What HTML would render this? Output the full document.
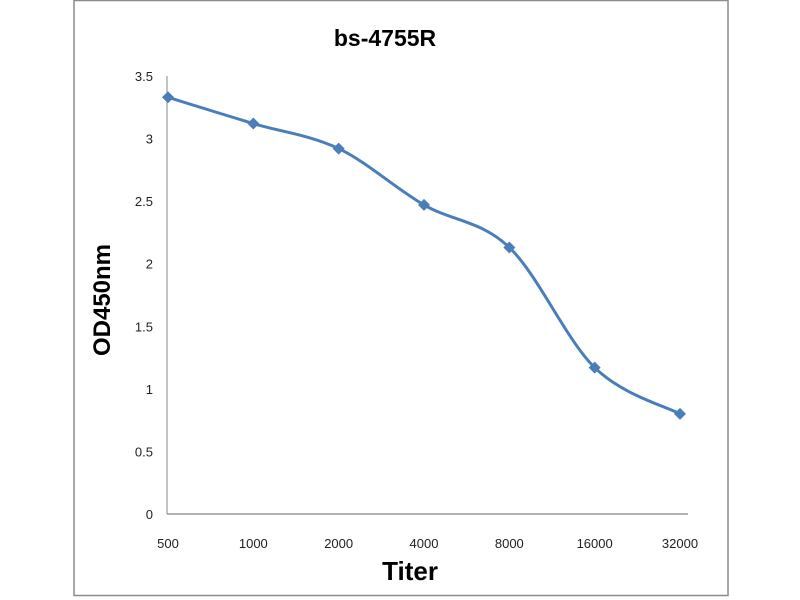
<!DOCTYPE html>
<html><head><meta charset="utf-8"><style>
html,body{margin:0;padding:0;background:#fff;}
svg{display:block;font-family:"Liberation Sans",Arial,sans-serif;}
</style></head><body>
<svg width="800" height="600">
<rect x="74" y="0.5" width="654" height="595" fill="#fff" stroke="#8c8c8c" stroke-width="1.5"/>
<text x="385" y="46" text-anchor="middle" font-size="23" font-weight="bold" fill="#000">bs-4755R</text>
<text transform="translate(110,300) rotate(-90)" text-anchor="middle" font-size="24" font-weight="bold" fill="#000">OD450nm</text>
<text x="410" y="580" text-anchor="middle" font-size="26" font-weight="bold" fill="#000">Titer</text>
<g id="axes"></g>
<g id="plot"></g>
</svg>
<script>
const categories = ["500","1000","2000","4000","8000","16000","32000"];
const values = [3.33, 3.12, 2.92, 2.47, 2.13, 1.17, 0.80];
const yTicks = [0, 0.5, 1, 1.5, 2, 2.5, 3, 3.5];
const NS = "http://www.w3.org/2000/svg";
const x0 = 168, x1 = 680, yBase = 514, yTop = 76, yMax = 3.5;
function xScale(i){ return x0 + i * (x1 - x0) / (categories.length - 1); }
function yScale(v){ return yBase - v / yMax * (yBase - yTop); }
const axes = document.getElementById('axes');
const plot = document.getElementById('plot');
function mk(tag, attrs, parent){ const e = document.createElementNS(NS, tag); for (const k in attrs) e.setAttribute(k, attrs[k]); parent.appendChild(e); return e; }
const ya = mk('line', {x1:x0-1, y1:yTop, x2:x0-1, y2:yBase, stroke:'#888', 'stroke-width':1}, axes);


const xa = mk('line', {x1:x0-1, y1:yBase, x2:688, y2:yBase, stroke:'#888', 'stroke-width':1.2}, axes);


yTicks.forEach(t => {
  const e = mk('text', {x:153, y:yScale(t)+5, 'text-anchor':'end', 'font-size':13, fill:'#222'}, axes);
  e.textContent = String(t);
  
  
});
categories.forEach((c, i) => {
  const e = mk('text', {x:xScale(i), y:548, 'text-anchor':'middle', 'font-size':13, fill:'#222'}, axes);
  e.textContent = c;
  
  
});
const pts = values.map((v, i) => [xScale(i), yScale(v)]);
let d = 'M' + pts[0][0] + ',' + pts[0][1];
for (let i = 0; i < pts.length - 1; i++) {
  const p0 = pts[Math.max(0, i-1)], p1 = pts[i], p2 = pts[i+1], p3 = pts[Math.min(pts.length-1, i+2)];
  const t = 1/6;
  const c1 = [p1[0] + (p2[0]-p0[0])*t, p1[1] + (p2[1]-p0[1])*t];
  const c2 = [p2[0] - (p3[0]-p1[0])*t, p2[1] - (p3[1]-p1[1])*t];
  d += ' C' + c1.join(',') + ' ' + c2.join(',') + ' ' + p2.join(',');
}
const line = mk('path', {d:d, fill:'none', stroke:'#4a7ebb', 'stroke-width':3, 'stroke-linejoin':'round'}, plot);


pts.forEach(p => {
  const s = 6;
  const m = mk('polygon', {points: `${p[0]},${p[1]-s} ${p[0]+s},${p[1]} ${p[0]},${p[1]+s} ${p[0]-s},${p[1]}`, fill:'#4a7ebb'}, plot);
  
  
});
</script>
</body></html>
